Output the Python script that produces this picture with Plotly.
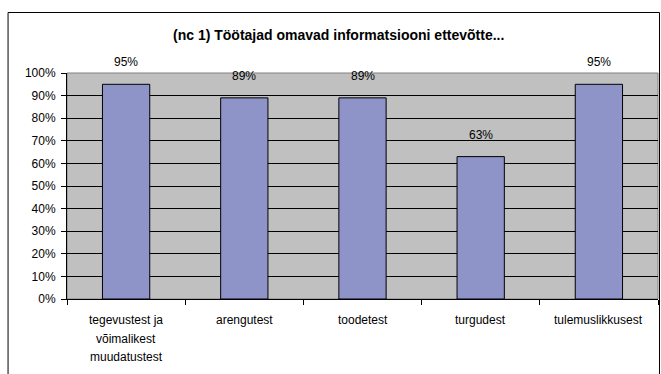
import plotly.graph_objects as go

categories = ["tegevustest ja<br>võimalikest<br>muudatustest", "arengutest", "toodetest", "turgudest", "tulemuslikkusest"]
values = [0.95, 0.89, 0.89, 0.63, 0.95]
labels = ["95%", "89%", "89%", "63%", "95%"]
y_ticks = [0, 0.1, 0.2, 0.3, 0.4, 0.5, 0.6, 0.7, 0.8, 0.9, 1.0]
y_ticktext = ["0%", "10%", "20%", "30%", "40%", "50%", "60%", "70%", "80%", "90%", "100%"]
title = "(nc 1) Töötajad omavad informatsiooni ettevõtte..."

W, H = 661, 374
L, R, T, B = 66.5, 3, 73, 75
pw, ph = W - L - R, H - T - B

def px_x(p):
    return (p - L) / pw

def px_y(p):
    return (H - B - p) / ph

FONT = "Liberation Sans, Arial, sans-serif"

fig = go.Figure()
fig.add_trace(go.Bar(
    x=categories, y=values, width=0.40,
    marker=dict(color="#8e94c8", line=dict(color="#000000", width=1)),
    hoverinfo="skip",
))

for c, v, t in zip(categories, values, labels):
    fig.add_annotation(x=c, y=v, text=t, showarrow=False, yanchor="bottom",
                       yshift=13, font=dict(family=FONT, size=12, color="#000"))

# category labels, one annotation per line (wider line spacing like the original)
for c in categories:
    for i, line in enumerate(c.split("<br>")):
        fig.add_annotation(x=c, xref="x", yref="paper", y=0, text=line,
                           showarrow=False, yanchor="middle", xanchor="center",
                           yshift=-(21 + 18.5 * i),
                           font=dict(family=FONT, size=12, color="#000"))

fig.add_annotation(text="<b>" + title + "</b>", xref="paper", yref="paper",
                   x=px_x(338.5), y=px_y(35), xanchor="center", yanchor="middle",
                   showarrow=False, font=dict(family=FONT, size=14, color="#000"))

# plot-area gray border (above gridlines, below bars)
fig.add_shape(type="rect", xref="paper", yref="paper", x0=0, x1=1, y0=0, y1=1,
              line=dict(color="#808080", width=1), layer="between")
# outer chart border
fig.add_shape(type="rect", xref="paper", yref="paper",
              x0=px_x(7.5), x1=px_x(659.5), y0=px_y(380), y1=px_y(12.5),
              line=dict(color="#000000", width=1), layer="above")

fig.update_layout(
    width=W, height=H,
    margin=dict(l=L, r=R, t=T, b=B, pad=0),
    paper_bgcolor="#ffffff", plot_bgcolor="#c0c0c0",
    showlegend=False, bargap=0.6,
    font=dict(family=FONT, size=12, color="#000"),
)
fig.update_xaxes(
    type="category", tickson="boundaries", ticks="outside", ticklen=5,
    tickcolor="#000", showline=True, linecolor="#000", linewidth=1,
    showgrid=False, showticklabels=False,
)
fig.update_yaxes(
    range=[0, 1.0], tickvals=y_ticks, ticktext=y_ticktext,
    ticks="outside", ticklen=5, tickcolor="#000",
    showline=True, linecolor="#000", linewidth=1,
    showgrid=True, gridcolor="#000", gridwidth=1, zeroline=False,
    tickfont=dict(family=FONT, size=12, color="#000"),
    ticklabelstandoff=3,
)

fig.write_html("out.html", config={"displayModeBar": False},
               post_script="document.body.style.margin='0';document.body.style.overflow='hidden';")
